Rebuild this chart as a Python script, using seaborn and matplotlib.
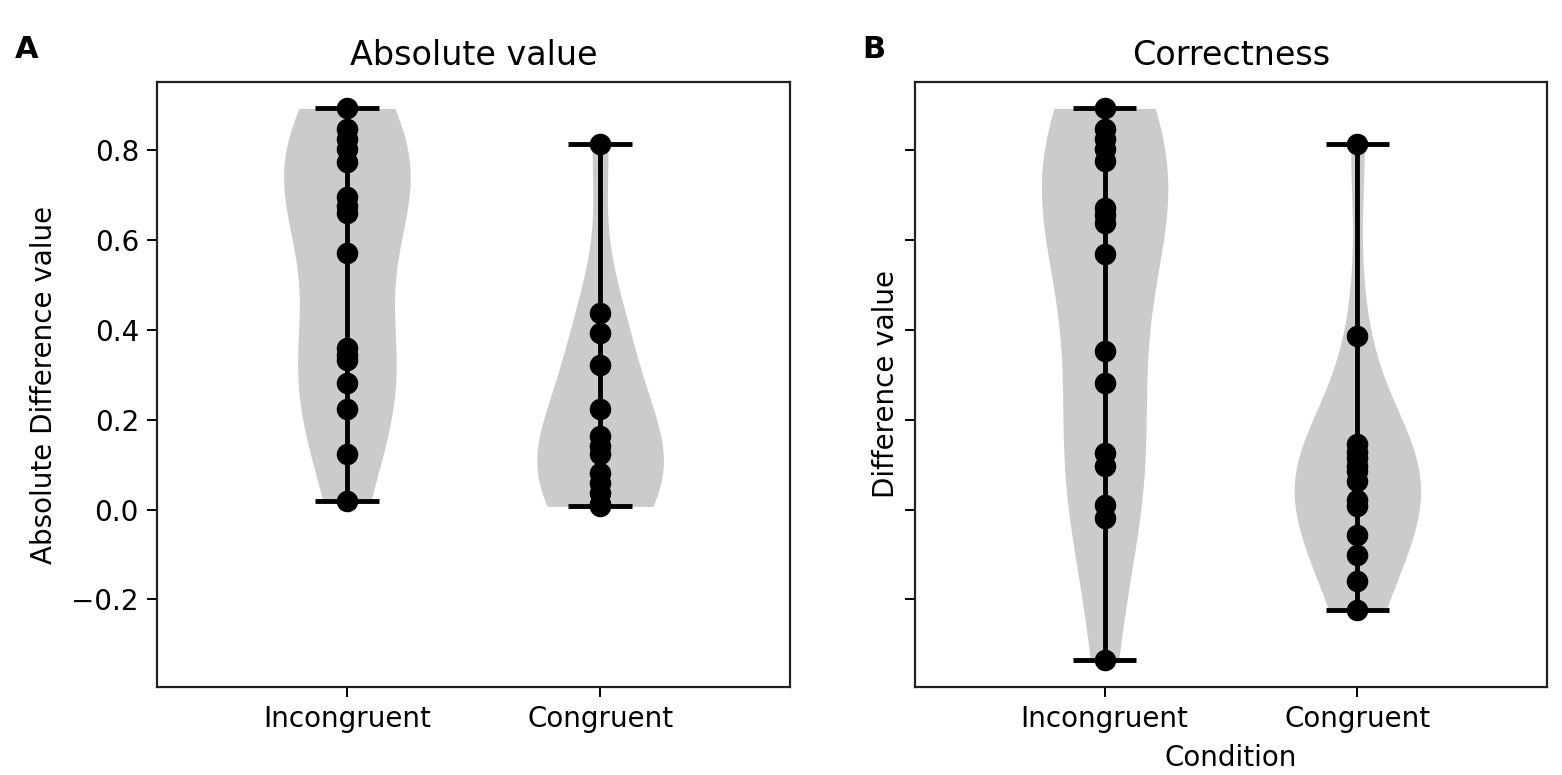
import numpy as np
import pandas as pd
import seaborn as sns
import matplotlib
matplotlib.use("Agg")
import matplotlib.pyplot as plt

conditions = ["Incongruent", "Congruent"]

# panel A: absolute difference values
abs_incongruent = [0.893, 0.847, 0.825, 0.802, 0.773, 0.695, 0.675, 0.660, 0.572,
                   0.360, 0.345, 0.334, 0.282, 0.223, 0.123, 0.019]
abs_congruent = [0.815, 0.438, 0.394, 0.323, 0.223, 0.163, 0.141, 0.123,
                 0.082, 0.059, 0.037, 0.012, 0.007]

# panel B: signed difference values
diff_incongruent = [0.893, 0.847, 0.825, 0.802, 0.776, 0.672, 0.655, 0.639, 0.568,
                    0.353, 0.282, 0.126, 0.097, 0.011, -0.019, -0.334]
diff_congruent = [0.815, 0.386, 0.145, 0.128, 0.115, 0.098, 0.085, 0.063,
                  0.022, 0.007, -0.056, -0.100, -0.160, -0.223]

sns.set_style("ticks")
plt.rcParams['font.family'] = ['DejaVu Sans']
plt.rcParams['axes.linewidth'] = 1.6
plt.rcParams['text.color'] = 'black'
plt.rcParams['axes.labelcolor'] = 'black'
plt.rcParams['xtick.color'] = 'black'
plt.rcParams['ytick.color'] = 'black'


def make_df(inc, con):
    return pd.DataFrame({
        "Condition": [conditions[0]] * len(inc) + [conditions[1]] * len(con),
        "value": list(inc) + list(con),
    })


def violin_panel(ax, df, title):
    sns.violinplot(data=df, x="Condition", y="value", order=conditions, ax=ax,
                   inner=None, cut=0, width=0.5, density_norm="width",
                   color="#cbcbcb", linewidth=0, saturation=1)
    sns.stripplot(data=df, x="Condition", y="value", order=conditions, ax=ax,
                  jitter=False, color="black", size=15.5, zorder=4)
    stats = df.groupby("Condition")["value"].agg(["min", "max"]).loc[conditions]
    pos = np.arange(len(conditions))
    ax.vlines(pos, stats["min"], stats["max"], color="black", lw=3.5, zorder=3)
    ax.hlines(stats["min"], pos - 0.125, pos + 0.125, color="black", lw=3.5, zorder=3)
    ax.hlines(stats["max"], pos - 0.125, pos + 0.125, color="black", lw=3.5, zorder=3)
    ax.set_xlim(-0.75, 1.75)
    ax.set_title(title, fontsize=24, pad=12)
    ax.tick_params(labelsize=20, length=7, width=1.4, pad=6)
    for s in ax.spines.values():
        s.set_visible(True)
        s.set_color("#222222")


fig = plt.figure(figsize=(15.62, 7.75), dpi=100)
axA = fig.add_axes([157 / 1562, 1 - 687 / 775, 633 / 1562, 605 / 775])
axB = fig.add_axes([915 / 1562, 1 - 687 / 775, 632 / 1562, 605 / 775], sharey=axA)

violin_panel(axA, make_df(abs_incongruent, abs_congruent), "Absolute value")
violin_panel(axB, make_df(diff_incongruent, diff_congruent), "Correctness")

axA.set_xlabel("")
axA.set_ylabel("Absolute Difference value", fontsize=20, labelpad=10)
axB.set_xlabel("Condition", fontsize=20, labelpad=8)
axB.set_ylabel("Difference value", fontsize=20, labelpad=4)
axB.tick_params(labelleft=False)
axA.set_yticks([-0.2, 0.0, 0.2, 0.4, 0.6, 0.8])
axA.set_ylim(-0.395, 0.952)

fig.text(15 / 1562, 1 - 50 / 775, "A", fontsize=22, fontweight="bold", va="center")
fig.text(862 / 1562, 1 - 50 / 775, "B", fontsize=22, fontweight="bold", va="center")

fig.savefig("out.png", dpi=100)
